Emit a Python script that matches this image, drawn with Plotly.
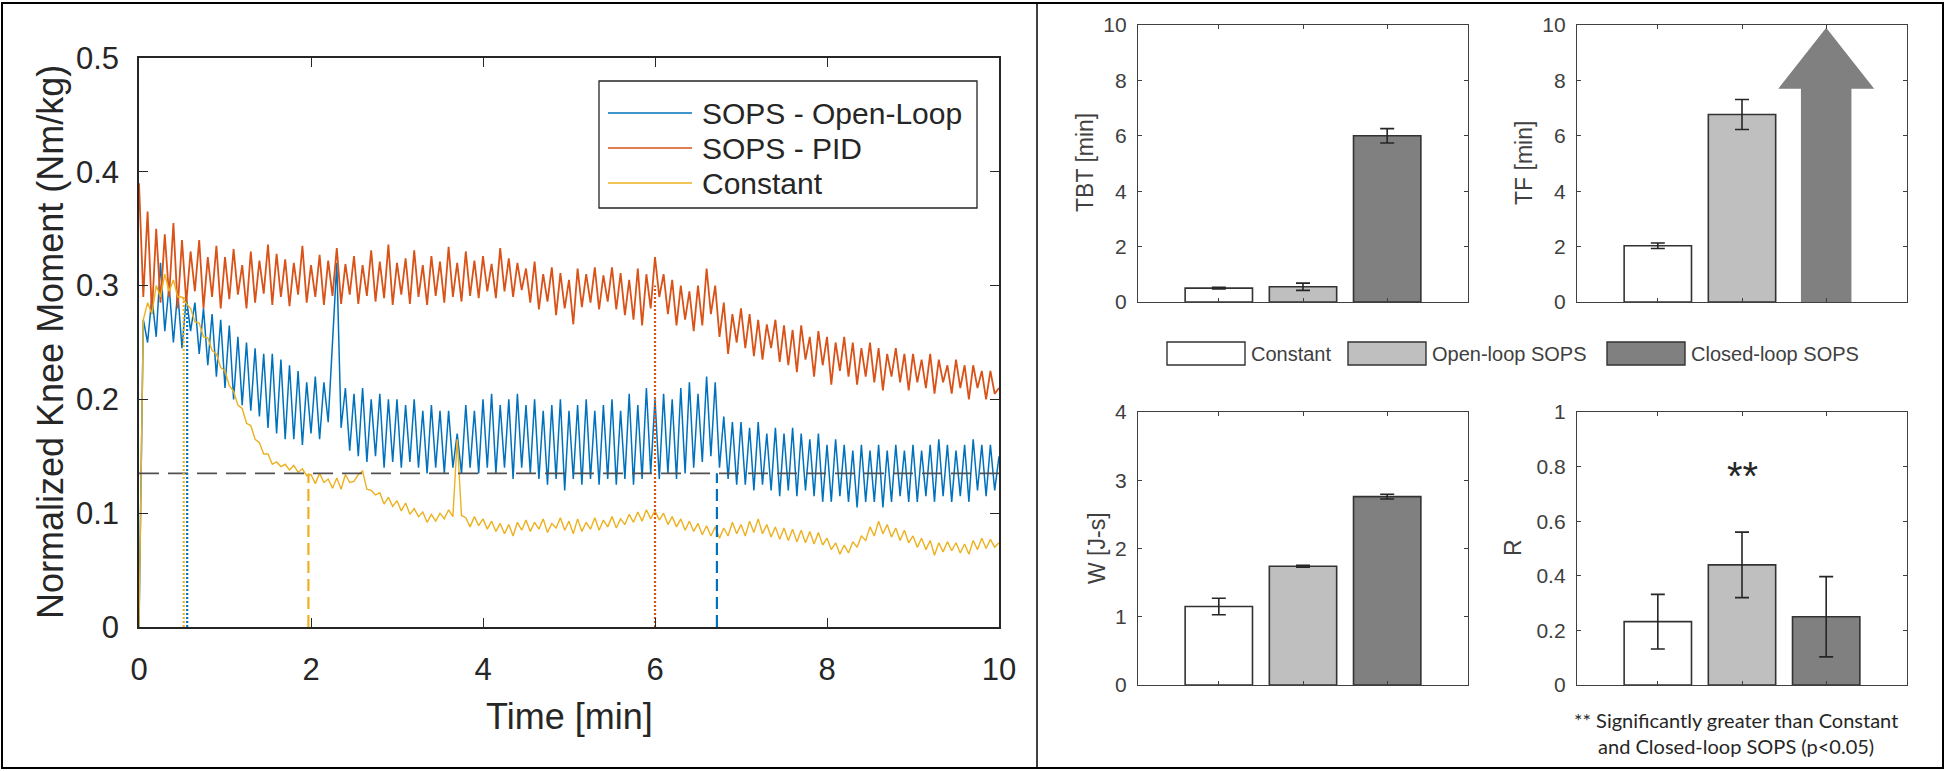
"""Knee moment time course + SOPS outcome bar charts (static figure)."""

import plotly.graph_objects as go

W, H = 1946, 771

# ---------------------------------------------------------------- data
# sample grid of the moment traces (minutes), one sample every 0.05 min
time_min = [round(i * 0.05, 2) for i in range(201)]

open_loop = [
    0.000, 0.270, 0.250, 0.290, 0.255, 0.320, 0.260, 0.300, 0.250, 0.295,
    0.245, 0.290, 0.260, 0.285, 0.240, 0.280, 0.230, 0.275, 0.220, 0.270,
    0.210, 0.265, 0.200, 0.255, 0.195, 0.250, 0.190, 0.245, 0.185, 0.240,
    0.175, 0.240, 0.170, 0.235, 0.165, 0.230, 0.165, 0.225, 0.160, 0.215,
    0.170, 0.220, 0.165, 0.215, 0.180, 0.250, 0.320, 0.175, 0.210, 0.155,
    0.205, 0.150, 0.210, 0.145, 0.200, 0.150, 0.205, 0.140, 0.200, 0.145,
    0.200, 0.140, 0.195, 0.145, 0.200, 0.140, 0.190, 0.135, 0.195, 0.140,
    0.190, 0.135, 0.190, 0.140, 0.170, 0.135, 0.195, 0.140, 0.190, 0.135,
    0.200, 0.140, 0.205, 0.135, 0.195, 0.140, 0.200, 0.130, 0.205, 0.140,
    0.195, 0.135, 0.200, 0.130, 0.190, 0.125, 0.195, 0.130, 0.200, 0.120,
    0.190, 0.130, 0.195, 0.125, 0.200, 0.130, 0.190, 0.125, 0.195, 0.130,
    0.200, 0.125, 0.190, 0.130, 0.205, 0.125, 0.195, 0.130, 0.210, 0.135,
    0.200, 0.130, 0.205, 0.135, 0.200, 0.130, 0.210, 0.135, 0.215, 0.140,
    0.205, 0.145, 0.220, 0.150, 0.215, 0.140, 0.185, 0.130, 0.180, 0.125,
    0.180, 0.125, 0.175, 0.120, 0.180, 0.125, 0.170, 0.120, 0.175, 0.115,
    0.170, 0.120, 0.175, 0.115, 0.170, 0.120, 0.165, 0.115, 0.170, 0.110,
    0.160, 0.110, 0.165, 0.115, 0.160, 0.110, 0.155, 0.105, 0.160, 0.110,
    0.155, 0.110, 0.160, 0.105, 0.155, 0.110, 0.160, 0.115, 0.155, 0.110,
    0.160, 0.110, 0.155, 0.115, 0.160, 0.110, 0.165, 0.115, 0.160, 0.110,
    0.155, 0.115, 0.160, 0.110, 0.165, 0.120, 0.160, 0.115, 0.160, 0.120,
    0.150,
]

pid = [
    0.390, 0.290, 0.365, 0.275, 0.350, 0.285, 0.345, 0.290, 0.355, 0.280,
    0.340, 0.285, 0.330, 0.295, 0.340, 0.280, 0.325, 0.290, 0.335, 0.280,
    0.325, 0.288, 0.332, 0.292, 0.318, 0.280, 0.330, 0.285, 0.322, 0.293,
    0.336, 0.283, 0.328, 0.290, 0.323, 0.282, 0.320, 0.292, 0.335, 0.285,
    0.318, 0.290, 0.327, 0.283, 0.322, 0.291, 0.333, 0.284, 0.319, 0.292,
    0.326, 0.284, 0.318, 0.291, 0.331, 0.286, 0.321, 0.289, 0.336, 0.283,
    0.320, 0.292, 0.324, 0.284, 0.331, 0.290, 0.318, 0.283, 0.326, 0.291,
    0.321, 0.285, 0.334, 0.290, 0.320, 0.286, 0.330, 0.291, 0.322, 0.289,
    0.326, 0.295, 0.319, 0.289, 0.333, 0.295, 0.324, 0.290, 0.320, 0.296,
    0.315, 0.285, 0.321, 0.279, 0.310, 0.286, 0.316, 0.274, 0.311, 0.280,
    0.305, 0.266, 0.315, 0.281, 0.310, 0.285, 0.316, 0.279, 0.309, 0.286,
    0.316, 0.279, 0.311, 0.274, 0.305, 0.270, 0.315, 0.265, 0.310, 0.280,
    0.325, 0.290, 0.310, 0.275, 0.305, 0.265, 0.300, 0.270, 0.295, 0.260,
    0.300, 0.265, 0.315, 0.275, 0.300, 0.255, 0.285, 0.240, 0.275, 0.250,
    0.280, 0.245, 0.275, 0.238, 0.270, 0.235, 0.266, 0.245, 0.270, 0.233,
    0.265, 0.230, 0.261, 0.224, 0.265, 0.235, 0.255, 0.220, 0.260, 0.230,
    0.255, 0.213, 0.250, 0.225, 0.255, 0.220, 0.250, 0.213, 0.245, 0.220,
    0.250, 0.215, 0.245, 0.208, 0.240, 0.220, 0.245, 0.215, 0.240, 0.208,
    0.240, 0.215, 0.235, 0.210, 0.240, 0.205, 0.235, 0.215, 0.230, 0.205,
    0.235, 0.210, 0.230, 0.200, 0.230, 0.210, 0.225, 0.200, 0.225, 0.205,
    0.210,
]

constant = [
    0.000, 0.270, 0.285, 0.275, 0.300, 0.290, 0.310, 0.295, 0.305, 0.290,
    0.290, 0.284, 0.280, 0.268, 0.267, 0.255, 0.254, 0.243, 0.240, 0.228,
    0.225, 0.212, 0.207, 0.195, 0.192, 0.179, 0.177, 0.165, 0.162, 0.152,
    0.152, 0.143, 0.145, 0.141, 0.143, 0.138, 0.142, 0.136, 0.139, 0.133,
    0.134, 0.126, 0.135, 0.127, 0.130, 0.122, 0.131, 0.121, 0.134, 0.127,
    0.128, 0.134, 0.137, 0.121, 0.120, 0.116, 0.118, 0.108, 0.114, 0.106,
    0.111, 0.102, 0.109, 0.099, 0.104, 0.097, 0.101, 0.092, 0.099, 0.093,
    0.100, 0.095, 0.103, 0.097, 0.165, 0.098, 0.096, 0.088, 0.097, 0.089,
    0.095, 0.086, 0.093, 0.084, 0.091, 0.082, 0.090, 0.080, 0.092, 0.085,
    0.094, 0.084, 0.092, 0.086, 0.095, 0.083, 0.091, 0.087, 0.096, 0.085,
    0.093, 0.082, 0.095, 0.084, 0.092, 0.086, 0.096, 0.085, 0.094, 0.088,
    0.097, 0.087, 0.095, 0.090, 0.099, 0.092, 0.101, 0.093, 0.103, 0.095,
    0.102, 0.094, 0.100, 0.090, 0.097, 0.088, 0.095, 0.085, 0.093, 0.084,
    0.091, 0.081, 0.089, 0.080, 0.088, 0.078, 0.087, 0.080, 0.092, 0.082,
    0.090, 0.080, 0.093, 0.083, 0.095, 0.082, 0.090, 0.079, 0.088, 0.077,
    0.087, 0.076, 0.086, 0.075, 0.085, 0.074, 0.084, 0.073, 0.083, 0.072,
    0.078, 0.068, 0.074, 0.064, 0.072, 0.065, 0.075, 0.070, 0.080, 0.076,
    0.088, 0.080, 0.093, 0.082, 0.090, 0.079, 0.087, 0.076, 0.085, 0.074,
    0.080, 0.070, 0.078, 0.068, 0.076, 0.063, 0.074, 0.066, 0.075, 0.067,
    0.074, 0.065, 0.073, 0.064, 0.076, 0.068, 0.078, 0.069, 0.077, 0.070,
    0.074,
]

threshold = 0.135  # horizontal reference level (Nm/kg)

# vertical event markers: time, height, which trace colour, line style
marker_time = [0.52, 0.56, 1.97, 6.00, 6.72]
marker_top = [0.290, 0.280, 0.135, 0.300, 0.135]
marker_series = ["Constant", "SOPS - Open-Loop", "Constant", "SOPS - PID", "SOPS - Open-Loop"]
marker_style = ["dot", "dot", "dash", "dot", "dash"]

groups = ["Constant", "Open-loop SOPS", "Closed-loop SOPS"]
tbt_mean = [0.50, 0.55, 6.00]
tbt_err = [0.03, 0.13, 0.26]
tf_mean = [2.03, 6.77]          # closed-loop never fatigued -> arrow
tf_err = [0.10, 0.54]
tf_arrow_top = 10.0
w_mean = [1.15, 1.74, 2.76]
w_err = [0.12, 0.015, 0.035]
r_mean = [0.232, 0.440, 0.250]
r_err = [0.100, 0.120, 0.147]

# ---------------------------------------------------------------- style
LINE_COLORS = {"SOPS - Open-Loop": "#0072BD", "SOPS - PID": "#D95319", "Constant": "#EDB120"}
LINE_WIDTHS = {"SOPS - Open-Loop": 1.5, "SOPS - PID": 1.8, "Constant": 1.4}
BAR_COLORS = ["#FFFFFF", "#BFBFBF", "#808080"]
FONT = "Liberation Sans, Arial, sans-serif"
AX_DARK = "#262626"
AX_GRAY = "#404040"
DASHES = {"dot": "2px,2px", "dash": "12px,6px"}


def px(x):
    return x / W


def py(y):
    return 1 - y / H


def dom_x(a, b):
    return [px(a), px(b)]


def dom_y(top, bottom):
    return [py(bottom), py(top)]


fig = go.Figure()

# ---------------------------------------------------------------- left panel
for name, vals in [("SOPS - Open-Loop", open_loop), ("SOPS - PID", pid), ("Constant", constant)]:
    fig.add_trace(go.Scatter(x=time_min, y=vals, mode="lines", name=name,
                             line=dict(color=LINE_COLORS[name], width=LINE_WIDTHS[name]),
                             xaxis="x", yaxis="y"))

fig.add_trace(go.Scatter(x=[0, 10], y=[threshold, threshold], mode="lines",
                         line=dict(color="#505050", width=1.8, dash="20px,9px"),
                         xaxis="x", yaxis="y"))
for t, top, s, st in zip(marker_time, marker_top, marker_series, marker_style):
    fig.add_trace(go.Scatter(x=[t, t], y=[0, top], mode="lines",
                             line=dict(color=LINE_COLORS[s], width=2.2, dash=DASHES[st]),
                             xaxis="x", yaxis="y"))

# ---------------------------------------------------------------- bar panels
cats = [1, 2, 3]
panels = [("2", tbt_mean, tbt_err), ("3", tf_mean, tf_err), ("4", w_mean, w_err), ("5", r_mean, r_err)]
for ax, mean, err in panels:
    n = len(mean)
    fig.add_trace(go.Bar(x=cats[:n], y=mean, width=0.8,
                         marker=dict(color=BAR_COLORS[:n], line=dict(color="#333333", width=1.6)),
                         error_y=dict(type="data", array=err, color="#262626", thickness=1.6, width=7),
                         xaxis="x" + ax, yaxis="y" + ax))

# off-scale arrow for closed-loop TF
ac, shaft, head, head_base = cats[2], 0.30, 0.57, 7.7
fig.add_trace(go.Scatter(
    x=[ac - shaft, ac - shaft, ac - head, ac, ac + head, ac + shaft, ac + shaft, ac - shaft],
    y=[0, head_base, head_base, tf_arrow_top - 0.1, head_base, head_base, 0, 0],
    mode="lines", fill="toself", fillcolor="#808080", line=dict(width=0),
    xaxis="x3", yaxis="y3"))

fig.update_layout(showlegend=False, barmode="overlay")

# ---------------------------------------------------------------- axes
left_ax = dict(showline=True, linecolor=AX_DARK, linewidth=1.5, mirror="allticks",
               ticks="inside", ticklen=9, tickwidth=1.3, tickcolor=AX_DARK,
               showgrid=False, zeroline=False, automargin=False,
               tickfont=dict(family=FONT, size=31, color=AX_DARK))
fig.update_layout(
    xaxis=dict(domain=dom_x(139, 999), anchor="y", range=[0, 10], dtick=2,
               ticklabelstandoff=14, **left_ax),
    yaxis=dict(domain=dom_y(58, 627), anchor="x", range=[0, 0.5], dtick=0.1,
               ticklabelstandoff=12, tickformat=".1~f", **left_ax),
)

bar_ax = dict(showline=True, linecolor=AX_GRAY, linewidth=1.4, mirror="allticks",
              ticks="inside", ticklen=4, tickwidth=1.2, tickcolor=AX_GRAY,
              showgrid=False, zeroline=False, automargin=False,
              tickfont=dict(family=FONT, size=21, color=AX_GRAY))
bar_geo = {
    "2": ((1138, 1468), (25, 302), [0, 10], 2),
    "3": ((1577, 1907), (25, 302), [0, 10], 2),
    "4": ((1138, 1468), (412, 685), [0, 4], 1),
    "5": ((1577, 1907), (412, 685), [0, 1], 0.2),
}
for ax, (xd, yd, yr, dt) in bar_geo.items():
    fig.update_layout(**{
        "xaxis" + ax: dict(domain=dom_x(*xd), anchor="y" + ax, range=[0.04, 3.96],
                           tickvals=cats, showticklabels=False, **bar_ax),
        "yaxis" + ax: dict(domain=dom_y(*yd), anchor="x" + ax, range=yr, dtick=dt,
                           ticklabelstandoff=6, tickformat="~g", **bar_ax),
    })

# ---------------------------------------------------------------- text
ann = []


def note(text, x, y, size, color=AX_DARK, angle=0, xanchor="center", family=FONT, **kw):
    ann.append(dict(text=text, x=px(x), y=py(y), xref="paper", yref="paper",
                    showarrow=False, textangle=angle, xanchor=xanchor, yanchor="middle",
                    font=dict(family=family, size=size, color=color), **kw))


note("Normalized Knee Moment (Nm/kg)", 50, 342, 36, angle=-90)
note("Time [min]", 569, 716, 36)
note("TBT [min]", 1085, 163, 23, color=AX_GRAY, angle=-90)
note("TF [min]", 1524, 163, 23, color=AX_GRAY, angle=-90)
note("W [J-s]", 1097, 548, 23, color=AX_GRAY, angle=-90)
note("R", 1513, 548, 23, color=AX_GRAY, angle=-90)
ann.append(dict(text="**", x=cats[1], y=0.8, xref="x5", yref="y5", showarrow=False,
                yanchor="middle", yshift=-9, font=dict(family=FONT, size=40, color="#262626")))
note("** Significantly greater than Constant<br>and Closed-loop SOPS (p<0.05)", 1736, 733, 20,
     color="#262626", family="Lato, Carlito, sans-serif")

shapes = []
# left legend
shapes.append(dict(type="rect", xref="paper", yref="paper", x0=px(599), x1=px(977),
                   y0=py(208), y1=py(81), line=dict(color=AX_DARK, width=1.3), fillcolor="white",
                   layer="above"))
for i, name in enumerate(LINE_COLORS):
    yy = 113 + 35 * i
    shapes.append(dict(type="line", xref="paper", yref="paper", x0=px(608), x1=px(692),
                       y0=py(yy), y1=py(yy), line=dict(color=LINE_COLORS[name], width=1.5),
                       layer="above"))
    note(name, 700, yy, 30, xanchor="left")

# bar legend
box_left = [1167, 1348, 1607]
for x0, g, c in zip(box_left, groups, BAR_COLORS):
    shapes.append(dict(type="rect", xref="paper", yref="paper", x0=px(x0), x1=px(x0 + 78),
                       y0=py(365), y1=py(342), line=dict(color="#333333", width=1.4), fillcolor=c))
    note(g, x0 + 82, 354, 20, color=AX_GRAY, xanchor="left")

# frame and divider
shapes.append(dict(type="rect", xref="paper", yref="paper", x0=px(2), x1=px(1943),
                   y0=py(768), y1=py(3), line=dict(color="black", width=2)))
shapes.append(dict(type="line", xref="paper", yref="paper", x0=px(1037), x1=px(1037),
                   y0=py(768), y1=py(3), line=dict(color="black", width=1.5)))

fig.update_layout(
    width=W, height=H, margin=dict(l=0, r=0, t=0, b=0),
    paper_bgcolor="white", plot_bgcolor="white",
    annotations=ann, shapes=shapes,
)

# default body margin would push the fixed-size figure past the window
fig.write_html("out.html", config={"displayModeBar": False},
               post_script="document.body.style.margin='0';")
